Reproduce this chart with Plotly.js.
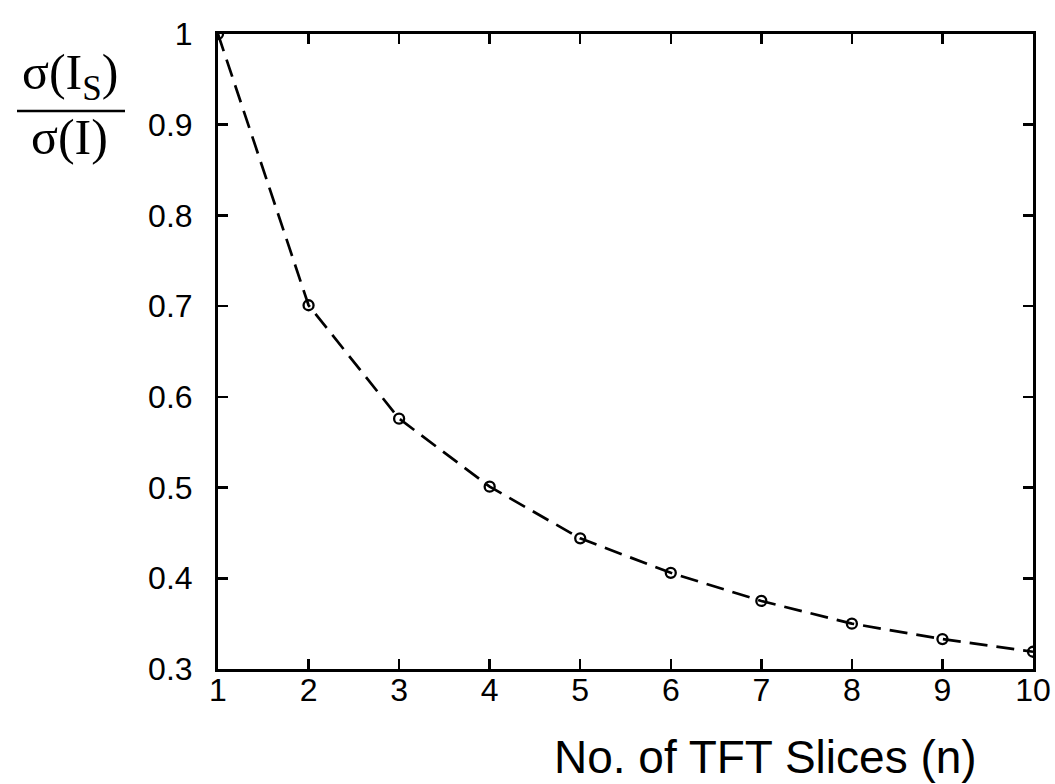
<!DOCTYPE html>
<html>
<head>
<meta charset="utf-8">
<script src="https://cdn.plot.ly/plotly-3.0.1.min.js"></script>
<style>
html,body{margin:0;padding:0;background:#fff;}
#chart{width:1055px;height:784px;}
</style>
</head>
<body>
<div id="chart"></div>
<script>
// Data
const slices = [1, 2, 3, 4, 5, 6, 7, 8, 9, 10];
const ratio = [1.0, 0.701, 0.576, 0.501, 0.444, 0.406, 0.375, 0.350, 0.333, 0.319];
const xTicks = [1, 2, 3, 4, 5, 6, 7, 8, 9, 10];
const yTicks = [0.3, 0.4, 0.5, 0.6, 0.7, 0.8, 0.9, 1];
const yTickText = ['0.3', '0.4', '0.5', '0.6', '0.7', '0.8', '0.9', '1'];
const xTitle = 'No. of TFT Slices (n)';
const yNum = 'σ(I<sub>S</sub>)';
const yDen = 'σ(I)';

const W = 1055, H = 784;
const M = {l: 218, r: 22, t: 34, b: 115};
const pw = W - M.l - M.r, ph = H - M.t - M.b;
const px = x => (x - M.l) / pw;
const py = y => (H - M.b - y) / ph;

const sans = 'Liberation Sans, Arial, Helvetica, sans-serif';
const serif = 'Liberation Serif, Times New Roman, serif';

const trace = {
  x: slices,
  y: ratio,
  type: 'scatter',
  mode: 'lines+markers',
  line: {color: '#000', width: 2.7, dash: '18px,9px'},
  marker: {symbol: 'circle-open', size: 10, color: '#000', line: {width: 2.3, color: '#000'}},
  hoverinfo: 'x+y'
};

const axisCommon = {
  showgrid: false,
  zeroline: false,
  showline: true,
  linecolor: '#000',
  linewidth: 3,
  mirror: 'allticks',
  ticks: 'inside',
  ticklen: 10,
  tickwidth: 2.5,
  tickcolor: '#000',
  tickfont: {family: sans, size: 32, color: '#000'}
};

const layout = {
  width: W, height: H,
  margin: M,
  paper_bgcolor: '#fff',
  plot_bgcolor: '#fff',
  showlegend: false,
  xaxis: Object.assign({}, axisCommon, {
    range: [1, 10],
    tickmode: 'array',
    tickvals: xTicks,
    ticktext: xTicks.map(String),
    ticklabelstandoff: -9
  }),
  yaxis: Object.assign({}, axisCommon, {
    range: [0.3, 1],
    tickmode: 'array',
    tickvals: yTicks,
    ticktext: yTickText,
    ticklabelstandoff: 16
  }),
  shapes: [
    {type: 'line', xref: 'paper', yref: 'paper',
     x0: px(17), x1: px(125), y0: py(111), y1: py(111),
     line: {color: '#000', width: 2.5}}
  ],
  annotations: [
    {text: xTitle, xref: 'paper', yref: 'paper', x: px(765), y: py(757),
     xanchor: 'center', yanchor: 'middle', showarrow: false,
     font: {family: sans, size: 46, color: '#000'}},
    {text: yNum, xref: 'paper', yref: 'paper', x: px(70), y: py(76),
     xanchor: 'center', yanchor: 'middle', showarrow: false,
     font: {family: serif, size: 50, color: '#000'}},
    {text: yDen, xref: 'paper', yref: 'paper', x: px(69), y: py(137),
     xanchor: 'center', yanchor: 'middle', showarrow: false,
     font: {family: serif, size: 50, color: '#000'}}
  ]
};

Plotly.newPlot('chart', [trace], layout, {displayModeBar: false, staticPlot: true});
</script>
</body>
</html>
